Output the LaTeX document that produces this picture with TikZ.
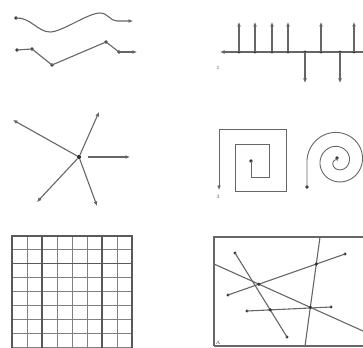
\documentclass[tikz,border=0pt]{standalone}
\usetikzlibrary{arrows.meta}
\begin{document}
\begin{tikzpicture}[x=1pt,y=-1pt,
  ln/.style={draw=black!60,line width=1.1pt},
  arr/.style={ln,-{Latex[length=4.5pt,width=4pt]}},
  dot/.style={circle,fill=black!80,inner sep=0pt,minimum size=3.6pt},
  lab/.style={font=\fontsize{5}{5}\selectfont,inner sep=0pt,text=black!70},
  gridln/.style={draw=black!50,line width=1pt}]
\useasboundingbox (0,0) rectangle (363,347);
\clip (0,0) rectangle (363,347);
% ---------- panel 1: curves ----------
\node[dot] (c1s) at (16,18) {};
\coordinate (c1e) at (133,21);
\draw[arr] (c1s.center) .. controls (30,17) and (38,32) .. (50,32)
  .. controls (62,32) and (88,13) .. (100,13)
  .. controls (108,13) and (110,21) .. (117,21) -- (c1e);
\node[dot] (p1) at (17,50) {};
\node[dot] (p2) at (32,49) {};
\node[dot] (p3) at (52,65) {};
\node[dot] (p4) at (106,42) {};
\node[dot] (p5) at (119,52) {};
\coordinate (p6) at (137,52);
\draw[ln] (p1.center) -- (p2.center) -- (p3.center) -- (p4.center) -- (p5.center);
\draw[arr] (p5.center) -- (p6);
% ---------- panel 2: impulses ----------
\coordinate (axL) at (220,52);
\coordinate (axR) at (363,52);
\draw[arr] (axR) -- (axL);
\foreach \i/\x in {1/239,2/255,3/272,4/288,5/321,6/354}{
  \node[dot,minimum size=3.2pt] (u\i) at (\x,52) {};
  \coordinate (ut\i) at (\x,22);
  \draw[arr] (u\i.center) -- (ut\i);
}
\foreach \i/\x in {1/305,2/340}{
  \node[dot,minimum size=3.2pt] (d\i) at (\x,52) {};
  \coordinate (dt\i) at (\x,83);
  \draw[arr] (d\i.center) -- (dt\i);
}
\node[lab] (l1) at (218,68) {1};
% ---------- panel 3: star ----------
\node[dot,minimum size=4.2pt] (ctr) at (79,157) {};
\coordinate (s1) at (13,120);
\coordinate (s2) at (99,112);
\coordinate (s3) at (130,157);
\coordinate (s4) at (97,206);
\coordinate (s5) at (37,202);
\coordinate (s3a) at (88,157);
\draw[arr] (ctr) -- (s1);
\draw[arr] (ctr) -- (s2);
\draw[arr] (s3a) -- (s3);
\draw[arr] (ctr) -- (s4);
\draw[arr] (ctr) -- (s5);
% ---------- panel 4: square spiral ----------
\node[dot] (q0) at (251,161) {};
\coordinate (qe) at (219,190);
\draw[arr,line width=0.9pt] (q0.center) -- (251,177) -- (269,177) -- (269,144) -- (235,144) -- (235,191)
  -- (286,191) -- (286,129) -- (219,129) -- (qe);
\node[lab] (l3) at (218,197) {3};
% ---------- panel 4: round spiral ----------
\node[dot] (r0) at (307,187) {};
\node[dot] (r1) at (337,158) {};
\draw[ln,line width=0.9pt] (r0.center) -- (307,160)
  -- plot[domain=0:790,samples=220,smooth,variable=\t]
  ({338-31*(1-\t/850)*cos(\t)},{160-31*(1-\t/850)*sin(\t)+2*\t/790}) -- (r1.center);
% ---------- panel 5: grid ----------
\foreach \i in {0,...,8}{
  \draw[gridln] (12+15*\i,236) -- (12+15*\i,350);
}
\foreach \j in {0,...,8}{
  \draw[gridln] (12,236+13.9*\j) -- (132,236+13.9*\j);
}
\draw[draw=black!65,line width=1.2pt] (12,350) -- (12,236) -- (132,236) -- (132,350);
\draw[draw=black!65,line width=1.2pt] (42,236) -- (42,350) (102,236) -- (102,350) (12,263.8) -- (132,263.8);
% ---------- panel 6: lines in box ----------
\draw[ln,line width=1.2pt] (214,346) -- (214,237) -- (370,237);
\draw[ln,line width=1.2pt] (214,346) -- (370,346);
\coordinate (a1) at (214,264);
\coordinate (a2) at (363,331);
\node[dot,minimum size=3.2pt] (b1) at (235,253) {};
\node[dot,minimum size=3.2pt] (b2) at (287,337) {};
\node[dot,minimum size=3.2pt] (c1) at (228,295) {};
\node[dot,minimum size=3.2pt] (c2) at (345,254) {};
\coordinate (e1) at (320,237);
\coordinate (e2) at (305,346);
\node[dot,minimum size=3.2pt] (f1) at (247,311) {};
\node[dot,minimum size=3.2pt] (f2) at (331,307) {};
\draw[ln] (a1) -- (a2);
\draw[ln] (b1.center) -- (b2.center);
\draw[ln] (c1.center) -- (c2.center);
\draw[ln] (e1) -- (e2);
\draw[ln] (f1.center) -- (f2.center);
\node[dot,minimum size=3.6pt] (x1) at (intersection of a1--a2 and c1--c2) {};
\node[dot,minimum size=3.6pt] (x2) at (intersection of b1--b2 and f1--f2) {};
\node[dot,minimum size=3.6pt] (x3) at (intersection of a1--a2 and e1--e2) {};
\node[dot,minimum size=3.6pt] (x4) at (intersection of c1--c2 and e1--e2) {};
\node[lab] (l6) at (218,343) {A};
\end{tikzpicture}
\end{document}
